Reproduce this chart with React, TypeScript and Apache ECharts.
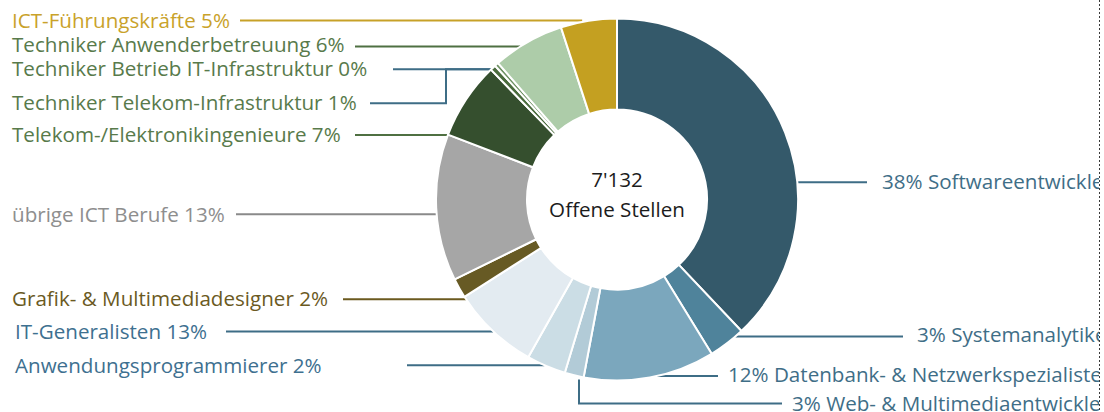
import React, { useEffect, useRef } from "react";
import * as echarts from "echarts";

// ---- data ----
const categories = [
  "Softwareentwickler",
  "Systemanalytiker",
  "Datenbank- & Netzwerkspezialisten",
  "Web- & Multimediaentwickler",
  "Anwendungsprogrammierer",
  "IT-Generalisten",
  "Grafik- & Multimediadesigner",
  "übrige ICT Berufe",
  "Telekom-/Elektronikingenieure",
  "Techniker Telekom-Infrastruktur",
  "Techniker Betrieb IT-Infrastruktur",
  "Techniker Anwenderbetreuung",
  "ICT-Führungskräfte",
];
// slice sizes (share of all open positions, %)
const sliceShares = [37.9, 3.3, 11.7, 1.7, 3.5, 7.8, 1.75, 13.1, 6.9, 0.5, 0.35, 6.4, 5.0];
// percentages printed in the labels
const labelPercents = [38, 3, 12, 3, 2, 13, 2, 13, 7, 1, 0, 6, 5];
const totalOpenings = "7'132";
const centerCaption = "Offene Stellen";

// ---- styles / layout ----
const CX = 617;
const CY = 199.5;
const R_OUT = 181;
const R_IN = 90;
const FONT = '"Open Sans", "Noto Sans", sans-serif';
const FONT_SIZE = 20.6;

const sliceColors = [
  "#34596a", "#4f839b", "#7ba7bd", "#b2cbd7", "#cbdde5", "#e3ebf1",
  "#675a24", "#a6a6a6", "#354f2e", "#4a6b3d", "#6e9163", "#adcca9", "#c4a021",
];
const labelColors = [
  "#3f6e87", "#3f6e87", "#3f6e87", "#3f6e87", "#3e7090", "#3e7090",
  "#6b5a1f", "#8e8e8e", "#587a4b", "#587a4b", "#587a4b", "#587a4b", "#c9a22a",
];
const lineColors = [
  "#3e6d86", "#3e6d86", "#3e6d86", "#3e6d86", "#3e6d86", "#3e6d86",
  "#6b5a1f", "#8a8a8a", "#4f7042", "#3e6d86", "#3e6d86", "#4f7042", "#c7a128",
];
const labelSide = ["right", "right", "right", "right", "left", "left", "left", "left", "left", "left", "left", "left", "left"];
const labelPos = [
  [882, 181.3], [917, 333.7], [728, 373.7], [792, 403],
  [15, 365], [15, 331], [12, 298.4], [12, 214.3], [12, 134.3],
  [12, 101.8], [12, 67.7], [12, 44.3], [12, 19.5],
];

const edgeX = (y: number, side: string) =>
  CX + (side === "left" ? -1 : 1) * Math.sqrt(Math.max(0, R_OUT * R_OUT - (y - CY) * (y - CY)));
const edgeY = (x: number) => CY + Math.sqrt(Math.max(0, R_OUT * R_OUT - (x - CX) * (x - CX)));

const leaderLines: number[][][] = [
  [[edgeX(182.3, "right"), 182.3], [867, 182.3]],
  [[edgeX(336.5, "right"), 336.5], [903, 336.5]],
  [[edgeX(376, "right"), 376], [718, 376]],
  [[579, edgeY(579) + 3], [579, 403.5], [782, 403.5]],
  [[407, 365.3], [edgeX(365.3, "left"), 365.3]],
  [[226, 331.5], [edgeX(331.5, "left"), 331.5]],
  [[343, 299.3], [edgeX(299.3, "left"), 299.3]],
  [[236, 214.3], [edgeX(214.3, "left"), 214.3]],
  [[355, 135], [edgeX(135, "left"), 135]],
  [[370, 103.3], [446, 103.3], [446, 69.3], [edgeX(69.3, "left"), 69.3]],
  [[393, 69.3], [edgeX(69.3, "left"), 69.3]],
  [[355, 46.5], [edgeX(46.5, "left"), 46.5]],
  [[240, 20.5], [edgeX(20.5, "left") - 8, 20.5]],
];

export default function App() {
  const ref = useRef<HTMLDivElement>(null);
  useEffect(() => {
    if (!ref.current) return;
    const chart = echarts.init(ref.current, undefined, { renderer: "svg" });
    chart.setOption({
      animation: false,
      backgroundColor: "#ffffff",
      series: [
        {
          type: "pie",
          center: [CX, CY],
          radius: [R_IN, R_OUT],
          startAngle: 90,
          clockwise: true,
          avoidLabelOverlap: false,
          silent: true,
          emphasis: { disabled: true },
          itemStyle: { borderColor: "#ffffff", borderWidth: 2 },
          label: {
            show: true,
            position: "outside",
            fontFamily: FONT,
            fontSize: FONT_SIZE,
            formatter: (p: any) =>
              labelSide[p.dataIndex] === "left"
                ? `${p.name} ${labelPercents[p.dataIndex]}%`
                : `${labelPercents[p.dataIndex]}% ${p.name}`,
          },
          labelLine: { show: true, smooth: false, lineStyle: { width: 2 } },
          labelLayout: (params: any) => {
            const i = params.dataIndex;
            return {
              x: labelPos[i][0],
              y: labelPos[i][1],
              align: "left",
              verticalAlign: "middle",
              labelLinePoints: leaderLines[i],
            };
          },
          data: categories.map((name, i) => ({
            name,
            value: sliceShares[i],
            itemStyle: { color: sliceColors[i] },
            label: { color: labelColors[i] },
            labelLine: { lineStyle: { color: lineColors[i], width: 2 } },
          })),
        },
      ],
      graphic: [
        {
          type: "text",
          x: CX,
          y: 178.5,
          style: {
            text: totalOpenings,
            fontFamily: FONT,
            fontSize: FONT_SIZE,
            fill: "#1c1c1c",
            align: "center",
            verticalAlign: "middle",
          },
        },
        {
          type: "text",
          x: CX,
          y: 208.5,
          style: {
            text: centerCaption,
            fontFamily: FONT,
            fontSize: FONT_SIZE,
            fill: "#1c1c1c",
            align: "center",
            verticalAlign: "middle",
          },
        },
        {
          type: "rect",
          z: 100,
          shape: { x: 1099, y: 0, width: 5, height: 412 },
          style: { fill: "#ffffff" },
        },
        {
          type: "line",
          z: 101,
          shape: { x1: 1099.5, y1: 0, x2: 1099.5, y2: 412 },
          style: { stroke: "#3a3a3a", lineWidth: 1, lineDash: [2, 2] },
        },
      ],
    });
    return () => chart.dispose();
  }, []);
  return (
    <div
      ref={ref}
      style={{ position: "absolute", left: 0, top: 0, width: 1104, height: 412 }}
    />
  );
}
